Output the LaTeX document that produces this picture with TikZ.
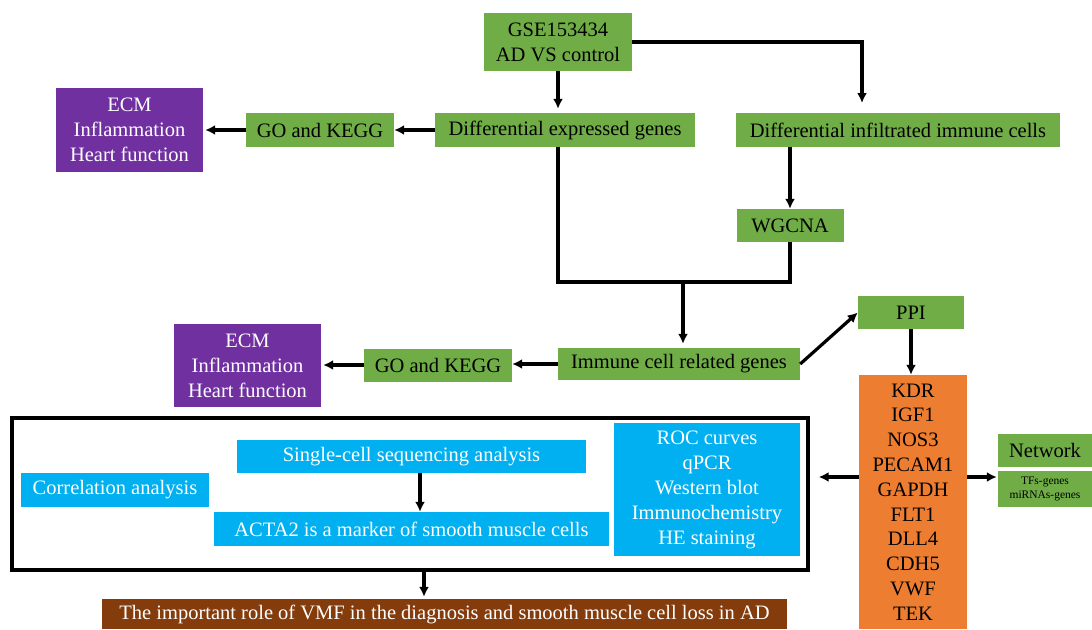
\documentclass[tikz,border=0pt]{standalone}
\usepackage{fontspec}
\setmainfont{Liberation Serif}
\usetikzlibrary{arrows.meta}
\definecolor{cgreen}{HTML}{70AD47}
\definecolor{cpurple}{HTML}{7030A0}
\definecolor{corange}{HTML}{ED7D31}
\definecolor{cblue}{HTML}{00B0F0}
\definecolor{cbrown}{HTML}{843C0C}
\begin{document}
\begin{tikzpicture}[x=1pt,y=-1pt,
 box/.style={inner sep=0pt, align=center, font=\fontsize{20.5}{25}\selectfont},
 gbox/.style={box, fill=cgreen, text=black},
 pbox/.style={box, fill=cpurple, text=white},
 bbox/.style={box, fill=cblue, text=white},
 obox/.style={box, fill=corange, text=black, font=\fontsize{20.5}{24.8}\selectfont},
 brbox/.style={box, fill=cbrown, text=white},
 arr/.style={line width=3.2pt, -{Latex[length=10pt,width=10pt]}},
 ln/.style={line width=3.2pt, line join=miter},
 frame/.style={draw=black, line width=3.4pt, inner sep=0pt},
]
\useasboundingbox (0,0) rectangle (1092,629);

% top part
\node[gbox, minimum width=148pt, minimum height=58pt] (gse) at (558,42) {GSE153434\\AD VS control};
\node[gbox, minimum width=260pt, minimum height=34pt] (de) at (565,130) {Differential expressed genes};
\node[gbox, minimum width=324pt, minimum height=34pt] (di) at (898,130) {Differential infiltrated immune cells};
\node[gbox, minimum width=148pt, minimum height=34pt] (got) at (320,130) {GO and KEGG};
\node[pbox, minimum width=147pt, minimum height=84pt] (ecmt) at (129.5,130) {ECM\\Inflammation\\Heart function};
\node[gbox, minimum width=107pt, minimum height=33pt] (wg) at (790,225.5) {WGCNA};
\node[gbox, minimum width=242pt, minimum height=32pt] (im) at (679,364) {Immune cell related genes};
\node[gbox, minimum width=148pt, minimum height=33pt] (gob) at (438,365) {GO and KEGG};
\node[pbox, minimum width=147pt, minimum height=83pt] (ecmb) at (247.5,365.5) {ECM\\Inflammation\\Heart function};
\node[gbox, minimum width=106pt, minimum height=33pt] (ppi) at (911,312.5) {PPI};

% orange gene box
\node[obox, minimum width=108pt, minimum height=254pt] (or) at (913,502) {KDR\\IGF1\\NOS3\\PECAM1\\GAPDH\\FLT1\\DLL4\\CDH5\\VWF\\TEK};
\node[gbox, minimum width=94pt, minimum height=33pt] (nw) at (1045,450.5) {Network};
\node[gbox, minimum width=94pt, minimum height=36pt, font=\fontsize{11.5}{14}\selectfont] (tf) at (1045,489) {TFs-genes\\miRNAs-genes};

% framed group
\node[frame, minimum width=796pt, minimum height=152pt] (fr) at (410,494) {};
\node[bbox, minimum width=188pt, minimum height=34pt] (co) at (115,490) {Correlation analysis};
\node[bbox, minimum width=349pt, minimum height=33pt] (sc) at (411.5,456.5) {Single-cell sequencing analysis};
\node[bbox, minimum width=395pt, minimum height=34pt] (ac) at (411.5,529) {ACTA2 is a marker of smooth muscle cells};
\node[bbox, minimum width=186pt, minimum height=133pt] (roc) at (707,489.5) {ROC curves\\qPCR\\Western blot\\Immunochemistry\\HE staining};
\node[brbox, minimum width=685pt, minimum height=30pt] (br) at (444.5,614) {The important role of VMF in the diagnosis and smooth muscle cell loss in AD};

% helper coordinates
\coordinate (c1) at (862,42);
\coordinate (c2) at (862,103);
\coordinate (m1) at (558,282);
\coordinate (m2) at (790,282);
\coordinate (mj) at (683,282);
\coordinate (ya) at (0,477);
\coordinate (xa) at (420,0);
\coordinate (xb) at (424,0);

% connectors
\draw[arr, shorten >=4pt] (gse.south) -- (gse.south |- de.north);
\draw[arr, line join=miter] (gse.east) -- (c1) -- (c2);
\draw[arr] (de.west) -- (got.east);
\draw[arr, shorten >=2pt] (got.west) -- (ecmt.east);
\draw[arr] (wg.north |- di.south) -- (wg.north);
\draw[ln] (gse.south |- de.south) -- (m1) -- (m2) -- (wg.south);
\draw[arr, shorten >=4pt] (mj) -- (mj |- im.north);
\draw[arr] (im.west) -- (im.west -| gob.east);
\draw[arr, shorten >=2pt] (gob.west) -- (gob.west -| ecmb.east);
\draw[arr] (im.east) -- (ppi.west);
\draw[arr] (ppi.south) -- (ppi.south |- or.north);
\draw[arr, shorten >=1pt] (or.east |- ya) -- (tf.west |- ya);
\draw[arr, shorten >=9pt] (or.west |- ya) -- (fr.east |- ya);
\draw[arr] (sc.south -| xa) -- (ac.north -| xa);
\draw[arr, shorten >=2pt] (fr.south -| xb) -- (br.north -| xb);
\end{tikzpicture}
\end{document}
